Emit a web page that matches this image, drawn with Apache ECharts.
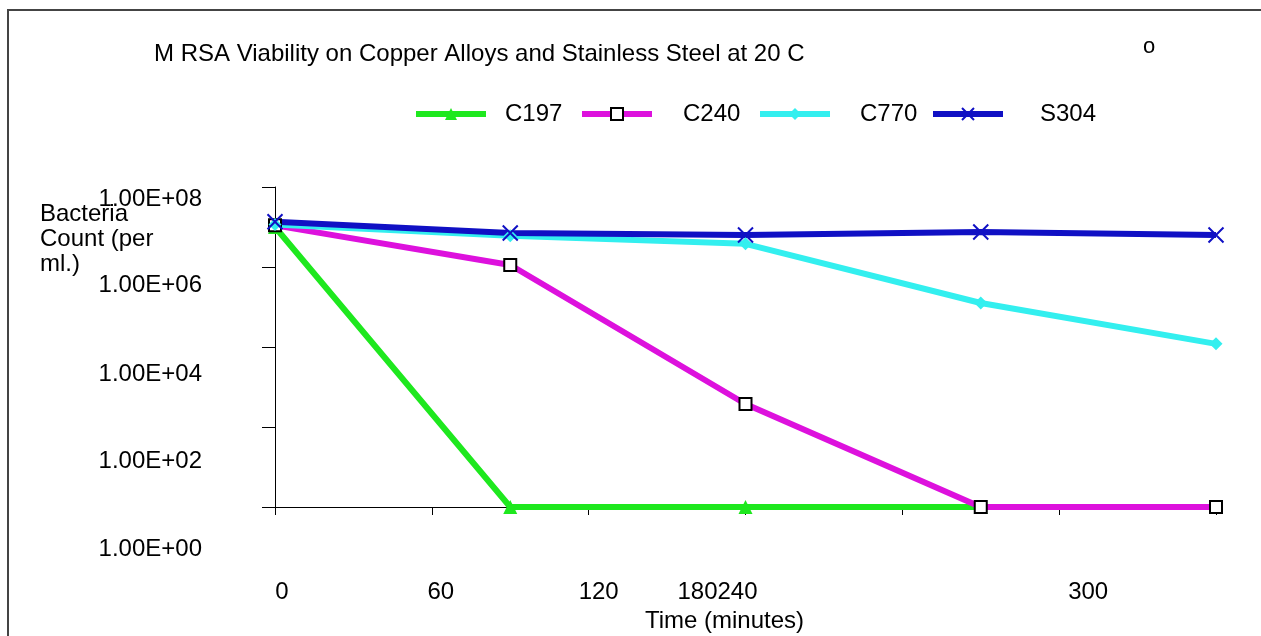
<!DOCTYPE html>
<html>
<head>
    <meta http-equiv="Content-Type" content="text/html; charset=utf-8"/>
    <script src="https://cdn.jsdelivr.net/npm/echarts@6/dist/echarts.min.js"></script>
    <style>
        html, body {margin: 0; padding: 0; background: #fff;}
        #frame {position: absolute; left: 7px; top: 9px; width: 1300px; height: 700px;
                border-left: 2px solid #444; border-top: 2px solid #444;}
        #main {position: absolute; left: 0; top: 0; width: 1261px; height: 636px;}
    </style>
</head>
<body>
<div id="frame"></div>
<div id="main"></div>

<script type="text/javascript">
    // 数据
    var times = [0, 90, 180, 270, 360];
    var seriesNames = ['C197', 'C240', 'C770', 'S304'];
    var c197 = [1.0e7, 1, 1, 1, 1];
    var c240 = [1.1e7, 1.12e6, 376, 1, 1];
    var c770 = [1.15e7, 6.0e6, 3.8e6, 1.26e5, 1.2e4];
    var s304 = [1.35e7, 7.1e6, 6.3e6, 7.5e6, 6.3e6];

    // 刻度标签（按原图照抄）
    var xTickValues = [0, 60, 120, 180, 240, 300, 360];
    var xTickLabels = ['0', '60', '120', '180240', '', '300', ''];
    var yTickLabels = ['1.00E+00', '1.00E+02', '1.00E+04', '1.00E+06', '1.00E+08'];

    var font = 'Liberation Sans, Arial, sans-serif';
    var fs = 24;

    function pairs(vals) {
        return vals.map(function (v, i) { return [times[i], v]; });
    }

    // 标签的偏移（原图标签没对齐刻度）
    var xShift = {0: 7, 60: 9, 120: 10, 180: -28, 240: 0, 300: 29, 360: 0};
    var yShift = [42, 34, 27, 18, 12];

    var xRich = {};
    xTickValues.forEach(function (v) {
        var d = xShift[v];
        xRich['x' + v] = {
            fontSize: fs, fontFamily: font, color: '#000',
            padding: d >= 0 ? [0, 0, 0, 2 * d] : [0, -2 * d, 0, 0]
        };
    });
    var yRich = {};
    yShift.forEach(function (d, i) {
        yRich['y' + i] = {
            fontSize: fs, fontFamily: font, color: '#000',
            padding: [2 * d, 0, 0, 0]
        };
    });

    var xMark = 'path://M0,0L10,10M10,0L0,10';

    var myChart = echarts.init(document.getElementById('main'));
    var option = {
        backgroundColor: 'transparent',
        animation: false,
        title: [
            {
                text: 'M RSA Viability on Copper Alloys and Stainless Steel at 20 C',
                left: 149, top: 37,
                textStyle: {fontSize: fs, fontWeight: 'normal', fontFamily: font, color: '#000'}
            },
            {
                text: 'o',
                left: 1138, top: 31,
                textStyle: {fontSize: 22, fontWeight: 'normal', fontFamily: font, color: '#000'}
            },
            {
                text: 'Bacteria\nCount (per\nml.)',
                left: 35, top: 197,
                textStyle: {fontSize: fs, fontWeight: 'normal', fontFamily: font, color: '#000', lineHeight: 25}
            }
        ],
        legend: [
            {data: ['C197'], left: 408, top: 97, textStyle: {padding: [0, 0, 0, 14]}},
            {data: ['C240'], left: 574, top: 97, textStyle: {padding: [0, 0, 0, 26]}},
            {data: ['C770'], left: 752, top: 97, textStyle: {padding: [0, 0, 0, 25]}},
            {data: ['S304'], left: 925, top: 97, textStyle: {padding: [0, 0, 0, 32]}}
        ].map(function (l) {
            l.itemWidth = 70;
            l.itemHeight = 15;
            l.lineStyle = {width: 6};
            l.textStyle.fontSize = fs;
            l.textStyle.fontFamily = font;
            l.textStyle.color = '#000';
            return l;
        }),
        grid: {left: 275, right: 45, top: 187, bottom: 129, outerBoundsMode: 'none', containLabel: false},
        xAxis: {
            type: 'value',
            min: 0, max: 360, interval: 60,
            name: 'Time (minutes)',
            nameLocation: 'middle',
            nameGap: 100,
            nameTextStyle: {fontSize: fs, fontFamily: font, color: '#000', padding: [0, 42, 0, 0]},
            axisLine: {onZero: false, lineStyle: {color: '#000', width: 1}},
            axisTick: {show: true, length: 8, lineStyle: {color: '#000'}},
            splitLine: {show: false},
            axisLabel: {
                margin: 73,
                showMaxLabel: true, showMinLabel: true,
                formatter: function (v) {
                    var i = xTickValues.indexOf(v);
                    var t = i >= 0 ? xTickLabels[i] : '';
                    return t ? '{x' + v + '|' + t + '}' : '';
                },
                rich: xRich
            }
        },
        yAxis: {
            type: 'log',
            logBase: 10,
            min: 1, max: 1e8,
            interval: 2,
            axisLine: {show: true, lineStyle: {color: '#000', width: 1}},
            axisTick: {show: true, length: 13, lineStyle: {color: '#000'}},
            splitLine: {show: false},
            axisLabel: {
                margin: 73,
                formatter: function (v) {
                    var i = Math.round(Math.log10(v) / 2);
                    return '{y' + i + '|' + yTickLabels[i] + '}';
                },
                rich: yRich
            }
        },
        series: [
            {
                name: 'C197', type: 'line', data: pairs(c197),
                symbol: 'triangle', symbolSize: 14,
                itemStyle: {color: '#1ee81e'},
                lineStyle: {color: '#1ee81e', width: 6}
            },
            {
                name: 'C240', type: 'line', data: pairs(c240),
                symbol: 'rect', symbolSize: 12,
                itemStyle: {color: '#fff', borderColor: '#000', borderWidth: 2},
                lineStyle: {color: '#dd11dd', width: 6}
            },
            {
                name: 'C770', type: 'line', data: pairs(c770),
                symbol: 'diamond', symbolSize: 13,
                itemStyle: {color: '#33efef'},
                lineStyle: {color: '#33efef', width: 6}
            },
            {
                name: 'S304', type: 'line', data: pairs(s304),
                symbol: xMark, symbolSize: 15,
                itemStyle: {color: '#1010c4', borderColor: '#1010c4', borderWidth: 2},
                lineStyle: {color: '#1010c4', width: 6}
            }
        ]
    };
    myChart.setOption(option);
</script>
</body>
</html>
